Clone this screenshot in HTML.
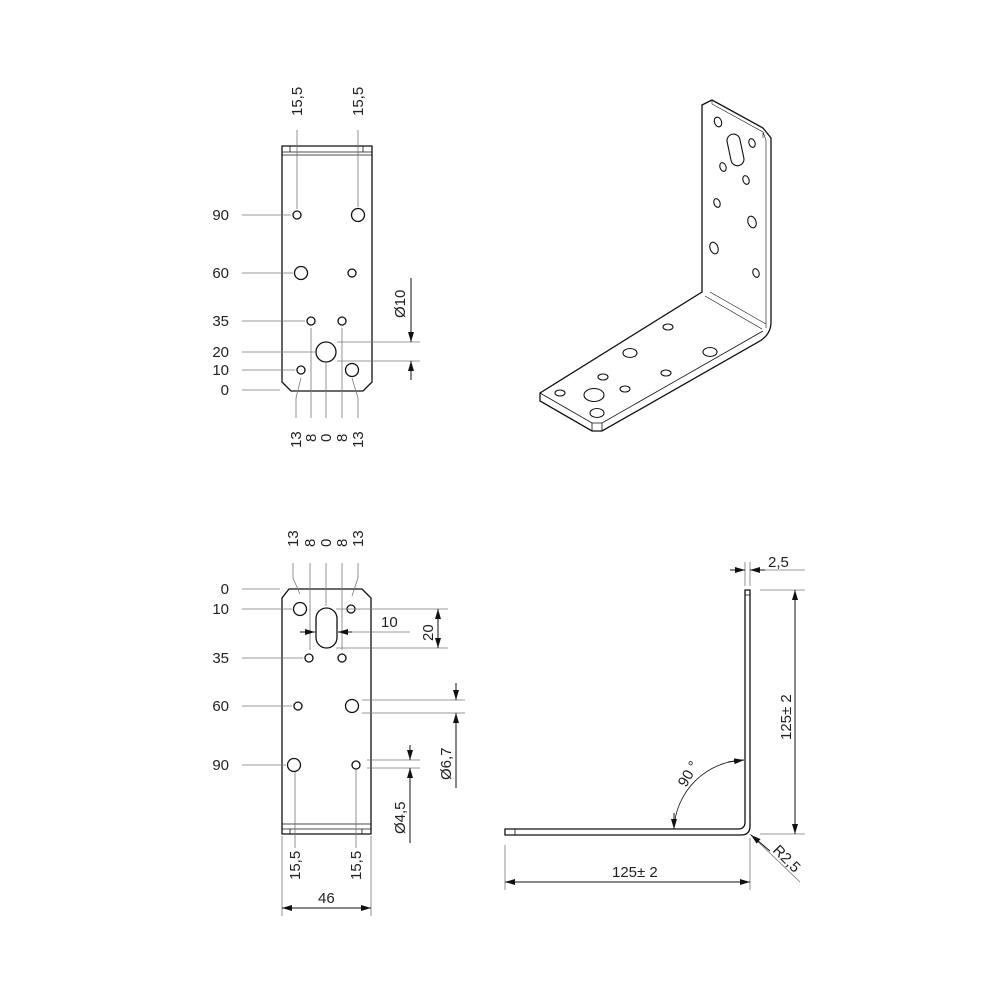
<!DOCTYPE html>
<html><head><meta charset="utf-8"><style>
html,body{margin:0;padding:0;background:#fff}
svg{display:block}
text{font-family:"Liberation Sans",sans-serif;font-size:15px;fill:#222}
</style></head><body>
<svg width="1000" height="1000" viewBox="0 0 1000 1000" xmlns="http://www.w3.org/2000/svg">
<defs>
<marker id="a" viewBox="0 0 10 6" refX="10" refY="3" markerWidth="10" markerHeight="6" markerUnits="userSpaceOnUse" orient="auto"><path d="M0,0L10,3L0,6z" fill="#111"/></marker>
</defs>
<g fill="none" stroke="#111" stroke-width="1.3">
<path d="M282,146H372V382L363,391H291L282,382Z"/>
<line x1="282" y1="152" x2="372" y2="152" stroke-width="0.8"/>
<line x1="282" y1="155" x2="372" y2="155" stroke-width="0.8"/>
<line x1="290" y1="146" x2="290" y2="152" stroke-width="0.8"/>
<line x1="363" y1="146" x2="363" y2="152" stroke-width="0.8"/>
<circle cx="297" cy="215" r="4"/><circle cx="358" cy="215" r="6.5"/>
<circle cx="301" cy="273" r="6.5"/><circle cx="352" cy="273" r="4"/>
<circle cx="311" cy="321" r="4"/><circle cx="342" cy="321" r="4"/>
<circle cx="326" cy="352" r="10"/>
<circle cx="301" cy="370" r="4"/><circle cx="352" cy="370" r="6.5"/>
</g>
<g fill="none" stroke="#777" stroke-width="0.8">
<path d="M242,215H291M242,273H293M242,321H305M242,352H316M242,370H295M242,390H280"/>
<path d="M297,130V209M358,130V207"/>
<path d="M301,378L296,398V418M311,328V418M326,363V418M342,328V418M352,378L358,398V418"/>
<path d="M337,342H420M337,361H420"/>
</g>
<g stroke="#111" stroke-width="1">
<line x1="411" y1="278" x2="411" y2="342" marker-end="url(#a)"/>
<line x1="411" y1="380" x2="411" y2="361" marker-end="url(#a)"/>
</g>
<g text-anchor="end">
<text x="229" y="220">90</text><text x="229" y="278">60</text><text x="229" y="326">35</text>
<text x="229" y="357">20</text><text x="229" y="375">10</text><text x="229" y="395">0</text>
</g>
<text transform="translate(302,116) rotate(-90)">15,5</text>
<text transform="translate(363,116) rotate(-90)">15,5</text>
<text transform="translate(301,448) rotate(-90)">13</text>
<text transform="translate(316,442) rotate(-90)">8</text>
<text transform="translate(331,442) rotate(-90)">0</text>
<text transform="translate(347,442) rotate(-90)">8</text>
<text transform="translate(363,448) rotate(-90)">13</text>
<text transform="translate(405,318) rotate(-90)">Ø10</text>

<g fill="none" stroke="#111" stroke-width="1.3">
<path d="M289,589H362L371,598V834H282V598Z"/>
<line x1="282" y1="824" x2="371" y2="824" stroke-width="0.8"/>
<line x1="282" y1="829" x2="371" y2="829" stroke-width="0.8"/>
<line x1="290" y1="829" x2="290" y2="834" stroke-width="0.8"/>
<line x1="362" y1="829" x2="362" y2="834" stroke-width="0.8"/>
<circle cx="300" cy="609" r="6.5"/><circle cx="351" cy="609" r="4"/>
<rect x="316" y="608" width="21" height="40" rx="10.5"/>
<circle cx="309" cy="658" r="4"/><circle cx="342" cy="658" r="4"/>
<circle cx="298" cy="706" r="4"/><circle cx="352" cy="706" r="6.5"/>
<circle cx="294" cy="765" r="6.5"/><circle cx="356" cy="765" r="4"/>
</g>
<g fill="none" stroke="#777" stroke-width="0.8">
<path d="M242,589H280M242,609H292M242,658H303M242,706H292M242,765H286"/>
<path d="M293,563V578L300,594M310,563V650M326,563V606M342,563V650M358,563V578L352,596"/>
<path d="M336,609H448M336,648H448M337,632H410"/>
<path d="M362,700H465M362,713H465M367,760H420M367,768H420"/>
<path d="M295,772V848M356,770V848"/>
<path d="M282,836V916M371,836V916"/>
</g>
<g stroke="#111" stroke-width="1">
<line x1="300" y1="632" x2="315" y2="632" marker-end="url(#a)"/>
<line x1="352" y1="632" x2="338" y2="632" marker-end="url(#a)"/>
<line x1="438" y1="628" x2="438" y2="609" marker-end="url(#a)"/>
<line x1="438" y1="628" x2="438" y2="648" marker-end="url(#a)"/>
<line x1="456" y1="683" x2="456" y2="700" marker-end="url(#a)"/>
<line x1="456" y1="788" x2="456" y2="713" marker-end="url(#a)"/>
<line x1="410" y1="745" x2="410" y2="760" marker-end="url(#a)"/>
<line x1="410" y1="843" x2="410" y2="768" marker-end="url(#a)"/>
<line x1="327" y1="908" x2="282" y2="908" marker-end="url(#a)"/>
<line x1="327" y1="908" x2="371" y2="908" marker-end="url(#a)"/>
</g>
<g text-anchor="end">
<text x="229" y="594">0</text><text x="229" y="614">10</text><text x="229" y="663">35</text>
<text x="229" y="711">60</text><text x="229" y="770">90</text>
</g>
<text transform="translate(298,547) rotate(-90)">13</text>
<text transform="translate(315,547) rotate(-90)">8</text>
<text transform="translate(331,547) rotate(-90)">0</text>
<text transform="translate(347,547) rotate(-90)">8</text>
<text transform="translate(363,547) rotate(-90)">13</text>
<text x="381" y="627">10</text>
<text transform="translate(433,641) rotate(-90)">20</text>
<text transform="translate(451,780) rotate(-90)">Ø6,7</text>
<text transform="translate(405,834) rotate(-90)">Ø4,5</text>
<text transform="translate(300,880) rotate(-90)">15,5</text>
<text transform="translate(361,880) rotate(-90)">15,5</text>
<text x="318" y="903">46</text>

<g fill="none" stroke="#111" stroke-width="1.3">
<path d="M702,105L712,100L763,128L771,138V322Q771,334 760,341L602,431H592L540,401V393L702,292Z"/>
<path d="M540,393L592,423H602L763,331" stroke-width="0.8"/>
<path d="M592,423V431M602,423V431" stroke-width="0.8"/>
<path d="M702,105V292" stroke-width="0.8"/>
<path d="M705,296L762,329M710,292L766,324" stroke-width="0.6"/>
<path d="M712,100V104L763,132V138M763,132L766,140V328" stroke-width="0.6"/>
<g stroke-width="1.1">
<ellipse cx="718" cy="122" rx="3.5" ry="5" transform="rotate(-20 718 122)"/>
<rect x="729" y="134" width="13" height="32" rx="6.5" transform="rotate(-12 735 150)"/>
<ellipse cx="752" cy="143" rx="3" ry="4.5" transform="rotate(-20 752 143)"/>
<ellipse cx="723" cy="167" rx="3" ry="4.5" transform="rotate(-20 723 167)"/>
<ellipse cx="746" cy="180" rx="3" ry="4.5" transform="rotate(-20 746 180)"/>
<ellipse cx="717" cy="203" rx="3" ry="4.5" transform="rotate(-20 717 203)"/>
<ellipse cx="752" cy="222" rx="4" ry="6" transform="rotate(-20 752 222)"/>
<ellipse cx="714" cy="248" rx="4" ry="6" transform="rotate(-20 714 248)"/>
<ellipse cx="756" cy="273" rx="3" ry="4.5" transform="rotate(-20 756 273)"/>
<ellipse cx="668" cy="327" rx="5" ry="3"/>
<ellipse cx="630" cy="353" rx="7" ry="4.5"/>
<ellipse cx="710" cy="352" rx="7" ry="4.5"/>
<ellipse cx="603" cy="377" rx="5" ry="3"/>
<ellipse cx="666" cy="373" rx="5" ry="3"/>
<ellipse cx="560" cy="393" rx="5" ry="3"/>
<ellipse cx="625" cy="389" rx="5" ry="3"/>
<ellipse cx="594" cy="395" rx="10" ry="6.5"/>
<ellipse cx="597" cy="413" rx="7" ry="4.5"/>
</g>
</g>

<g fill="none" stroke="#111" stroke-width="1.3">
<path d="M745,590H750V826Q750,835 741,835H505V829H738Q745,829 745,822Z"/>
<line x1="745" y1="595" x2="750" y2="595" stroke-width="0.8"/>
<line x1="515" y1="829" x2="515" y2="835" stroke-width="0.8"/>
</g>
<g fill="none" stroke="#777" stroke-width="0.8">
<path d="M745,562V586M750,562V586M750,570H805"/>
<path d="M760,590H805M760,834H805"/>
<path d="M505,845V890M750,838V890"/>
<path d="M750,834L800,882"/>
</g>
<g stroke="#111" stroke-width="1" fill="none">
<line x1="730" y1="570" x2="745" y2="570" marker-end="url(#a)"/>
<line x1="765" y1="570" x2="750" y2="570" marker-end="url(#a)"/>
<line x1="795" y1="712" x2="795" y2="590" marker-end="url(#a)"/>
<line x1="795" y1="712" x2="795" y2="834" marker-end="url(#a)"/>
<line x1="628" y1="882" x2="505" y2="882" marker-end="url(#a)"/>
<line x1="628" y1="882" x2="750" y2="882" marker-end="url(#a)"/>
<line x1="770" y1="851" x2="751" y2="835" marker-end="url(#a)"/>
<path d="M744,760A72,72 0 0 0 674,829" stroke-width="0.8"/>
<line x1="728" y1="762" x2="744" y2="760" marker-end="url(#a)"/>
<line x1="674" y1="813" x2="674" y2="829" marker-end="url(#a)"/>
</g>
<text x="768" y="567">2,5</text>
<text transform="translate(791,740) rotate(-90)">125± 2</text>
<text x="612" y="877">125± 2</text>
<text transform="translate(772,851) rotate(45)">R2,5</text>
<text transform="translate(686,788) rotate(-60)">90 °</text>
</svg>
</body></html>
